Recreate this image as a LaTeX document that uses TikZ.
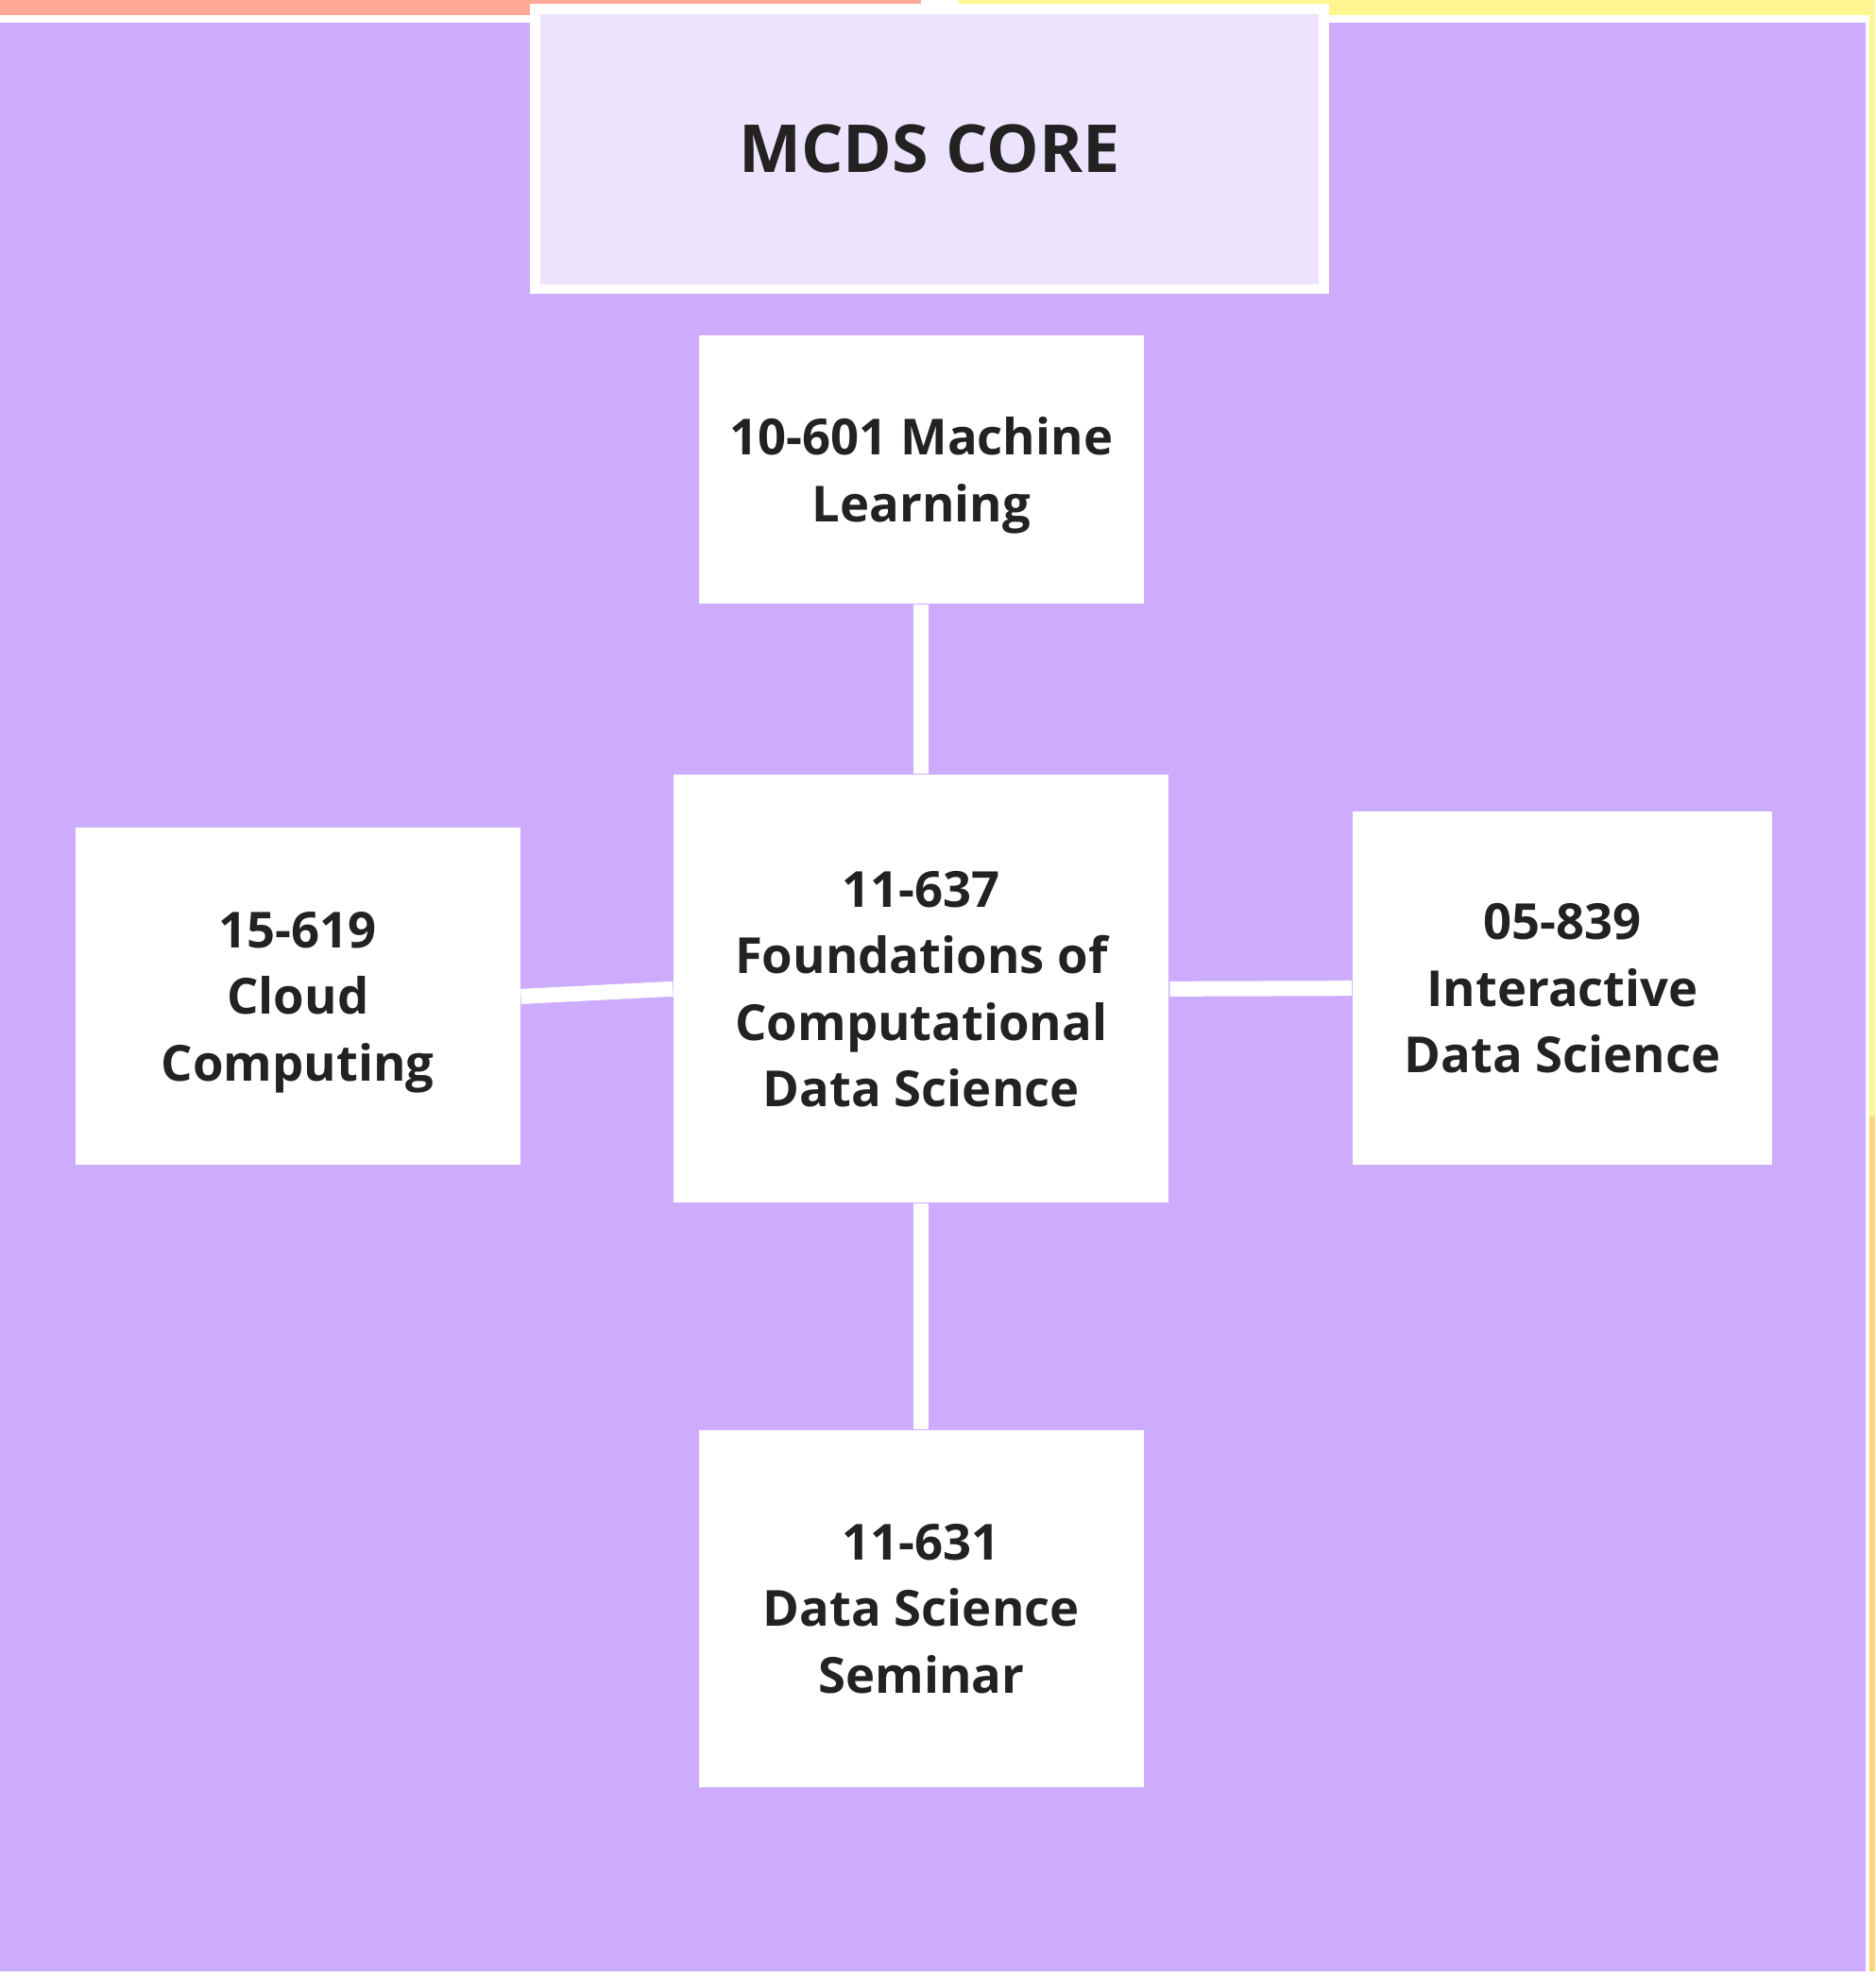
\documentclass[tikz,border=0pt]{standalone}
\usepackage{fontspec}
\setmainfont{Open Sans}

\definecolor{bgpurple}{HTML}{CDABFD}
\definecolor{titlefill}{HTML}{EDE3FD}
\definecolor{salmon}{HTML}{FFA898}
\definecolor{lemon}{HTML}{FFF68F}
\definecolor{apricot}{HTML}{FFD77A}
\definecolor{inkgray}{HTML}{222222}

\newcommand{\coursefont}{\fontsize{11.2}{15}\selectfont\bfseries}
\newcommand{\titlefont}{\fontsize{14.9}{18}\selectfont\bfseries}

\begin{document}
\begin{tikzpicture}[x=0.01cm,y=-0.01cm,
    course/.style={fill=white,text=inkgray,font=\coursefont,align=center,inner sep=0pt,text depth=0pt},
    link/.style={draw=white,line width=0.12cm}]
        % Background
        \fill[white] (0,0) rectangle (1486,1568);
        \fill[salmon] (0,0) rectangle (730,12);
        \fill[lemon] (760,0) rectangle (1486,12);
        \fill[lemon] (1481,0) rectangle (1486,885);
        \fill[apricot] (1481,885) rectangle (1486,1562);
        \fill[bgpurple] (0,18) rectangle (1478,1562);

        % Title
        \node[draw=white,line width=0.08cm,fill=titlefill,text=inkgray,font=\titlefont,
              minimum width=6.25cm,minimum height=2.22cm] (title) at (736.5,118) {MCDS CORE};

        % Courses
        \node[course,minimum width=3.52cm,minimum height=2.12cm] (ml) at (730,372) {10-601 Machine\\Learning};
        \node[course,minimum width=3.92cm,minimum height=3.39cm] (found) at (730,783.5) {11-637\\Foundations of\\Computational\\Data Science};
        \node[course,minimum width=3.52cm,minimum height=2.67cm] (cloud) at (236,789.5) {15-619\\Cloud\\Computing};
        \node[course,minimum width=3.32cm,minimum height=2.80cm] (inter) at (1238,783) {05-839\\Interactive\\Data Science};
        \node[course,minimum width=3.52cm,minimum height=2.83cm] (sem) at (730,1274.5) {11-631\\Data Science\\Seminar};

        % Links
        \draw[link] (ml) -- (found);
        \draw[link] (cloud.east) -- (found.west);
        \draw[link] (found.east) -- (inter.west);
        \draw[link] (found) -- (sem);
\end{tikzpicture}
\end{document}
